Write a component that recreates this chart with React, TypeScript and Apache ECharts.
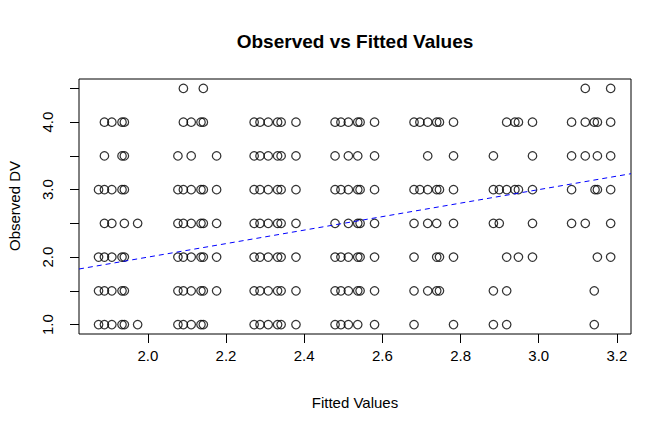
import React, { useEffect, useRef } from "react";
import * as echarts from "echarts";

// Observed DV levels and the fitted values of the points at each level
const fittedAtObs45 = [2.091, 2.142, 3.119, 3.184];
const fittedAtObs40 = [1.889, 1.908, 1.934, 1.94, 2.091, 2.111, 2.136, 2.142, 2.272, 2.287, 2.308, 2.332, 2.341, 2.379, 2.479, 2.494, 2.513, 2.537, 2.543, 2.58, 2.681, 2.696, 2.716, 2.739, 2.746, 2.782, 2.918, 2.939, 2.948, 2.984, 3.084, 3.119, 3.142, 3.15, 3.184];
const fittedAtObs35 = [1.889, 1.934, 1.94, 2.077, 2.111, 2.176, 2.272, 2.287, 2.308, 2.332, 2.341, 2.379, 2.479, 2.513, 2.537, 2.58, 2.716, 2.782, 2.884, 2.984, 3.084, 3.119, 3.15, 3.184];
const fittedAtObs30 = [1.874, 1.889, 1.908, 1.934, 1.94, 2.077, 2.091, 2.111, 2.136, 2.142, 2.176, 2.272, 2.287, 2.308, 2.332, 2.341, 2.379, 2.479, 2.494, 2.513, 2.537, 2.543, 2.58, 2.681, 2.696, 2.716, 2.739, 2.746, 2.782, 2.884, 2.899, 2.918, 2.939, 2.948, 2.984, 3.084, 3.144, 3.15, 3.184];
const fittedAtObs25 = [1.889, 1.908, 1.94, 1.974, 2.077, 2.091, 2.111, 2.136, 2.142, 2.176, 2.272, 2.287, 2.308, 2.332, 2.341, 2.379, 2.479, 2.513, 2.537, 2.543, 2.58, 2.681, 2.716, 2.739, 2.782, 2.884, 2.899, 2.984, 3.084, 3.119, 3.184];
const fittedAtObs20 = [1.874, 1.889, 1.908, 1.934, 1.94, 2.077, 2.091, 2.111, 2.136, 2.142, 2.176, 2.272, 2.287, 2.308, 2.332, 2.341, 2.379, 2.479, 2.494, 2.513, 2.537, 2.543, 2.58, 2.681, 2.739, 2.746, 2.782, 2.918, 2.948, 2.984, 3.15, 3.184];
const fittedAtObs15 = [1.874, 1.889, 1.908, 1.934, 1.94, 2.077, 2.091, 2.111, 2.136, 2.142, 2.176, 2.272, 2.287, 2.308, 2.332, 2.341, 2.379, 2.479, 2.494, 2.513, 2.537, 2.543, 2.58, 2.681, 2.716, 2.739, 2.746, 2.884, 2.918, 3.142];
const fittedAtObs10 = [1.874, 1.889, 1.908, 1.934, 1.94, 1.974, 2.077, 2.091, 2.111, 2.136, 2.142, 2.272, 2.287, 2.308, 2.332, 2.341, 2.379, 2.479, 2.494, 2.513, 2.537, 2.58, 2.681, 2.782, 2.884, 2.918, 3.142];

const observedLevels = [4.5, 4.0, 3.5, 3.0, 2.5, 2.0, 1.5, 1.0];
const fittedByLevel = [fittedAtObs45, fittedAtObs40, fittedAtObs35, fittedAtObs30, fittedAtObs25, fittedAtObs20, fittedAtObs15, fittedAtObs10];

const xTicks = [2.0, 2.2, 2.4, 2.6, 2.8, 3.0, 3.2];
const yTicks = [1.0, 1.5, 2.0, 2.5, 3.0, 3.5, 4.0, 4.5];
const yLabels = [1.0, 2.0, 3.0, 4.0];

const xRange = [1.824, 3.236];
const yRange = [0.861, 4.639];

const FONT = "'Liberation Sans', Arial, Helvetica, sans-serif";

export default function App() {
  const ref = useRef<HTMLDivElement>(null);
  useEffect(() => {
    if (!ref.current) return;
    const chart = echarts.init(ref.current, null, { renderer: "svg" });
    const points: number[][] = [];
    observedLevels.forEach((lv, i) => {
      fittedByLevel[i].forEach((f) => points.push([f, lv]));
    });
    chart.setOption({
      animation: false,
      backgroundColor: "#fff",
      title: {
        text: "Observed vs Fitted Values",
        left: 355,
        top: 32,
        textAlign: "center",
        padding: 0,
        textStyle: { fontFamily: FONT, fontSize: 19, fontWeight: "bold", color: "#000" },
      },
      grid: {
        left: 79,
        right: 41,
        top: 79,
        bottom: 98,
        show: true,
        borderColor: "#000",
        borderWidth: 1,
        backgroundColor: "transparent",
      },
      xAxis: {
        type: "value",
        min: xRange[0],
        max: xRange[1],
        splitLine: { show: false },
        axisLine: { show: false },
        axisTick: { show: true, length: 9, customValues: xTicks, lineStyle: { color: "#000" } },
        axisLabel: {
          customValues: xTicks,
          formatter: (v: number) => v.toFixed(1),
          color: "#000",
          fontSize: 15,
          fontFamily: FONT,
          margin: 14,
        },
      },
      yAxis: {
        type: "value",
        min: yRange[0],
        max: yRange[1],
        splitLine: { show: false },
        axisLine: { show: false },
        axisTick: { show: true, length: 9, customValues: yTicks, lineStyle: { color: "#000" } },
        axisLabel: {
          customValues: yLabels,
          formatter: (v: number) => v.toFixed(1),
          rotate: 90,
          color: "#000",
          fontSize: 15,
          fontFamily: FONT,
          margin: 24,
        },
      },
      graphic: [
        {
          type: "text",
          x: 355,
          y: 402,
          style: { text: "Fitted Values", fontSize: 15, fontFamily: FONT, fill: "#000", textAlign: "center", textVerticalAlign: "middle" },
        },
        {
          type: "text",
          x: 14,
          y: 206,
          rotation: Math.PI / 2,
          style: { text: "Observed DV", fontSize: 15, fontFamily: FONT, fill: "#000", textAlign: "center", textVerticalAlign: "middle" },
        },
      ],
      series: [
        {
          type: "scatter",
          data: points,
          symbol: "circle",
          symbolSize: 8.5,
          itemStyle: { color: "transparent", borderColor: "#000", borderWidth: 1.25 },
          silent: true,
        },
        {
          type: "line",
          data: [[xRange[0], xRange[0]], [xRange[1], xRange[1]]],
          showSymbol: false,
          symbol: "none",
          lineStyle: { color: "#0000ff", width: 1, type: [5, 4] },
          silent: true,
        },
      ],
    });
    return () => chart.dispose();
  }, []);
  return <div ref={ref} style={{ position: "absolute", left: 0, top: 0, width: 672, height: 432 }} />;
}
